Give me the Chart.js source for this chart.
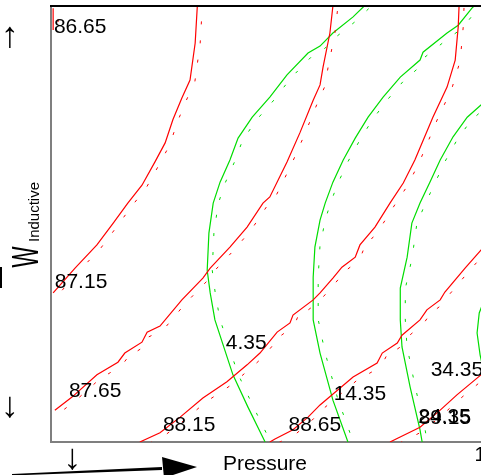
<!DOCTYPE html>
<html>
<head>
<meta charset="utf-8">
<script src="https://cdn.jsdelivr.net/npm/chart.js@4"></script>
<style>
html,body{margin:0;padding:0;background:#fff;overflow:hidden;}
#wrap{width:481px;height:475px;overflow:hidden;position:relative;}
canvas{display:block;}
</style>
</head>
<body>
<div id="wrap"><canvas id="c" width="523" height="475"></canvas></div>
<script>
// ---- data (Pressure on x, W_Inductive on y, normalized units) ----
const xTitle = 'Pressure';
const yTitleMain = 'W';
const yTitleSub = 'Inductive';
const xTickValues = [0.05, 1];
const xTickLabels = ['↓', '1'];
const yTickValues = [0.08, 0.929];
const yTickLabels = ['↓', '↑'];

// red contour levels
const red8665 = [[0.005,0.945],[0.005,0.995]];
const red8715 = [[0.005,0.342],[0.056,0.399],[0.107,0.452],[0.145,0.502],[0.179,0.548],[0.212,0.589],[0.242,0.642],[0.266,0.686],[0.284,0.739],[0.305,0.789],[0.324,0.830],[0.336,0.915],[0.341,1.0]];
const red8765 = [[0.009,0.073],[0.049,0.103],[0.107,0.154],[0.156,0.183],[0.172,0.204],[0.212,0.229],[0.224,0.252],[0.254,0.266],[0.305,0.326],[0.354,0.376],[0.371,0.399],[0.417,0.447],[0.457,0.493],[0.494,0.548],[0.510,0.562],[0.550,0.642],[0.580,0.709],[0.611,0.784],[0.627,0.819],[0.634,0.860],[0.650,0.938],[0.657,1.0]];
const red8815 = [[0.207,0.0],[0.254,0.021],[0.301,0.057],[0.354,0.101],[0.410,0.138],[0.457,0.177],[0.487,0.204],[0.527,0.252],[0.557,0.273],[0.564,0.291],[0.611,0.326],[0.627,0.342],[0.657,0.376],[0.678,0.401],[0.709,0.424],[0.720,0.452],[0.755,0.493],[0.790,0.548],[0.821,0.594],[0.848,0.647],[0.890,0.745],[0.923,0.814],[0.942,0.876],[0.949,0.952],[0.951,1.0]];
const red8865 = [[0.510,0.0],[0.522,0.007],[0.564,0.028],[0.599,0.057],[0.627,0.085],[0.704,0.149],[0.760,0.181],[0.772,0.204],[0.807,0.227],[0.818,0.245],[0.860,0.280],[0.876,0.303],[0.907,0.326],[0.918,0.344],[0.965,0.399],[1.002,0.440],[1.047,0.491],[1.1,0.555]];
const red8915 = [[0.790,0.0],[0.809,0.009],[0.860,0.034],[0.907,0.073],[0.946,0.108],[1.002,0.154],[1.070,0.211]];

// green contour levels
const green435 = [[0.499,0.0],[0.459,0.080],[0.424,0.154],[0.382,0.280],[0.371,0.342],[0.364,0.394],[0.368,0.479],[0.378,0.548],[0.394,0.596],[0.417,0.647],[0.436,0.697],[0.469,0.745],[0.510,0.791],[0.550,0.842],[0.599,0.892],[0.627,0.908],[0.657,0.938],[0.704,0.975],[0.730,1.0]];
const green1435 = [[0.692,0.0],[0.657,0.096],[0.627,0.204],[0.611,0.280],[0.611,0.378],[0.615,0.447],[0.627,0.509],[0.639,0.548],[0.657,0.596],[0.681,0.647],[0.709,0.697],[0.739,0.745],[0.774,0.791],[0.814,0.837],[0.860,0.876],[0.867,0.894],[0.923,0.938],[0.949,0.956],[0.981,0.995],[0.986,1.0]];
const green2435 = [[0.865,0.0],[0.860,0.028],[0.837,0.126],[0.818,0.218],[0.814,0.280],[0.814,0.353],[0.830,0.424],[0.841,0.502],[0.860,0.548],[0.883,0.596],[0.907,0.647],[0.937,0.700],[0.970,0.745],[1.002,0.773],[1.047,0.807],[1.1,0.842]];
const green3435 = [[1.023,0.096],[1.0,0.200],[0.993,0.250],[0.998,0.296],[1.019,0.349],[1.047,0.399]];

const redCurves = [red8665, red8715, red8765, red8815, red8865, red8915];
const greenCurves = [green435, green1435, green2435, green3435];

// contour level labels
const labelTexts = ['86.65','87.15','87.65','88.15','88.65','89.15','4.35','14.35','24.35','34.35'];
const labelXs = [0.068,0.070,0.103,0.322,0.615,0.918,0.455,0.720,0.917,0.946];
const labelYs = [0.952,0.367,0.117,0.039,0.039,0.055,0.227,0.110,0.058,0.165];

const RED = '#ff0000';
const GREEN = '#00dd00';
const FONT = '"Liberation Sans", Arial, sans-serif';

function toXY(arr){ return arr.map(p => ({x:p[0], y:p[1]})); }
const datasets = [];
redCurves.forEach(c => datasets.push({data: toXY(c), borderColor: RED, hatch: RED}));
greenCurves.forEach(c => datasets.push({data: toXY(c), borderColor: GREEN, hatch: GREEN}));
datasets.forEach(d => { d.showLine = true; d.pointRadius = 0; d.borderWidth = 1.2; d.tension = 0; d.fill = false; });

function tickFont(c){
  const lbl = c.tick && c.tick.label;
  if (lbl === '↑' || lbl === '↓') return {size: 36, family: FONT, lineHeight: 0.9};
  return {size: 20, family: FONT};
}

const hatchPlugin = {
  id: 'hatch',
  afterDatasetsDraw(chart){
    const ctx = chart.ctx, a = chart.chartArea;
    ctx.save();
    ctx.beginPath(); ctx.rect(a.left, a.top, a.right - a.left, a.bottom - a.top); ctx.clip();
    const spacing = 19, off = 5, half = 1.5;
    chart.data.datasets.forEach((ds, i) => {
      const meta = chart.getDatasetMeta(i);
      const pts = meta.data.map(p => ({x: p.x, y: p.y}));
      ctx.strokeStyle = ds.hatch; ctx.lineWidth = 1;
      let next = spacing / 2, dist = 0;
      for (let k = 0; k < pts.length - 1; k++){
        const p = pts[k], q = pts[k+1];
        const dx = q.x - p.x, dy = q.y - p.y, len = Math.hypot(dx, dy);
        if (!len) continue;
        const ux = dx/len, uy = dy/len, nx = -uy, ny = ux;
        while (next <= dist + len){
          const s = next - dist;
          const cx = p.x + ux*s + nx*off, cy = p.y + uy*s + ny*off;
          ctx.beginPath();
          ctx.moveTo(cx - ux*half, cy - uy*half);
          ctx.lineTo(cx + ux*half, cy + uy*half);
          ctx.stroke();
          next += spacing;
        }
        dist += len;
      }
    });
    ctx.restore();
  }
};

const decorPlugin = {
  id: 'decor',
  afterDraw(chart){
    const ctx = chart.ctx, a = chart.chartArea;
    const xs = chart.scales.x, ys = chart.scales.y;
    ctx.save();
    // top frame line
    ctx.strokeStyle = '#000'; ctx.lineWidth = 2;
    ctx.beginPath(); ctx.moveTo(a.left - 1, a.top); ctx.lineTo(a.right, a.top); ctx.stroke();
    // contour labels
    ctx.fillStyle = '#000'; ctx.font = '21px ' + FONT; ctx.textAlign = 'center'; ctx.textBaseline = 'middle';
    labelTexts.forEach((t, i) => ctx.fillText(t, xs.getPixelForValue(labelXs[i]), ys.getPixelForValue(labelYs[i])));
    // x title
    ctx.font = '21px ' + FONT;
    ctx.fillText(xTitle, a.left + 214, a.bottom + 22);
    // x arrow
    ctx.beginPath();
    ctx.moveTo(a.left - 39, a.bottom + 32); ctx.lineTo(a.left + 111, a.bottom + 25);
    ctx.lineTo(a.left + 111, a.bottom + 28); ctx.lineTo(a.left - 39, a.bottom + 33.5);
    ctx.closePath(); ctx.fill();
    ctx.beginPath();
    ctx.moveTo(a.left + 111, a.bottom + 15); ctx.lineTo(a.left + 146, a.bottom + 25); ctx.lineTo(a.left + 113, a.bottom + 36);
    ctx.closePath(); ctx.fill();
    // y arrow fragment
    ctx.fillRect(0, 267, 2, 21);
    // y title with subscript
    ctx.translate(a.left - 13, 257); ctx.rotate(-Math.PI/2);
    ctx.textBaseline = 'alphabetic';
    ctx.save(); ctx.scale(0.62, 1); ctx.textAlign = 'center'; ctx.font = '36px ' + FONT; ctx.fillText(yTitleMain, 0, 0); ctx.restore();
    ctx.textAlign = 'left'; ctx.font = '15px ' + FONT; ctx.fillText(yTitleSub, 15, 1);
    ctx.restore();
  }
};

new Chart(document.getElementById('c').getContext('2d'), {
  type: 'scatter',
  data: {datasets},
  options: {
    responsive: false, animation: false, devicePixelRatio: 1,
    layout: {padding: {top: 6, left: 0, right: 0, bottom: 0}},
    plugins: {legend: {display: false}, tooltip: {enabled: false}},
    scales: {
      x: {
        type: 'linear', min: 0, max: 1.1,
        afterBuildTicks: s => { s.ticks = xTickValues.map(v => ({value: v})); },
        afterFit: s => { s.height = 33; s.paddingLeft = 0; s.paddingRight = 0; },
        ticks: {callback: v => xTickLabels[xTickValues.indexOf(v)], autoSkip: false, maxRotation: 0, padding: 1, color: '#000', font: tickFont},
        grid: {display: false, drawTicks: false},
        border: {display: true, color: '#7f7f7f', width: 2}
      },
      y: {
        type: 'linear', min: 0, max: 1,
        afterBuildTicks: s => { s.ticks = yTickValues.map(v => ({value: v})); },
        afterFit: s => { s.width = 51; s.paddingTop = 0; s.paddingBottom = 0; },
        ticks: {callback: v => yTickLabels[yTickValues.indexOf(v)], autoSkip: false, padding: 32, color: '#000', font: tickFont},
        grid: {display: false, drawTicks: false},
        border: {display: true, color: '#7f7f7f', width: 2}
      }
    }
  },
  plugins: [hatchPlugin, decorPlugin]
});
</script>
</body>
</html>
